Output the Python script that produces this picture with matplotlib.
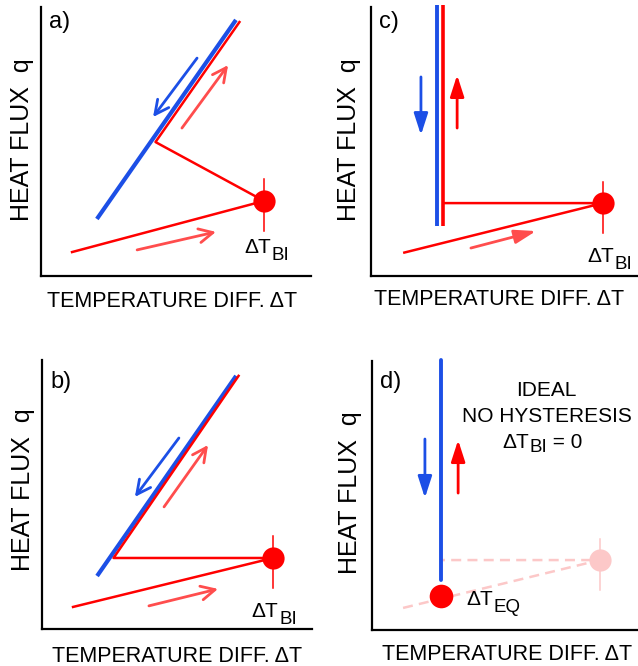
import matplotlib
matplotlib.use("Agg")
import matplotlib.pyplot as plt

plt.rcParams['font.family'] = ['Liberation Sans', 'DejaVu Sans']

BLUE = '#1c4fe6'
RED = '#ff0000'
LIGHT_RED = '#ff4d4d'
PALE = '#fcc8c8'

# schematic curves, arbitrary units 0..10 on both axes
# a) linear boiling curve, jump back to the upper branch
a_blue_x = [2.07, 7.22]
a_blue_y = [2.12, 9.52]
a_red_x = [1.15, 8.26, 4.24, 7.35]
a_red_y = [0.89, 2.79, 4.98, 9.44]
a_dot = (8.26, 2.79)

# b) same, but flat drop from the incipience point
b_blue_x = [2.04, 7.19]
b_blue_y = [1.97, 9.41]
b_red_x = [1.15, 8.56, 2.65, 7.28]
b_red_y = [0.82, 2.64, 2.64, 9.41]
b_dot = (8.56, 2.64)

# c) vertical boiling curve
c_blue_x = [2.44, 2.44]
c_blue_y = [1.86, 10.07]
c_red_x = [1.19, 8.59, 2.67]
c_red_y = [0.86, 2.71, 2.71]
c_redv_x = [2.67, 2.67]
c_redv_y = [1.86, 10.07]
c_dot = (8.59, 2.71)

# d) ideal, no hysteresis
d_blue_x = [2.56, 2.56]
d_blue_y = [1.86, 10.04]
d_pale_x = [1.15, 8.44, 2.56]
d_pale_y = [0.82, 2.60, 2.60]
d_dot = (2.56, 1.26)
d_pale_dot = (8.44, 2.60)

# direction arrows: (start, end, colour key)
a_arrows = [((5.78, 8.10), (4.15, 5.91), 'b'),
            ((5.22, 5.50), (6.93, 7.84), 'l'),
            ((3.56, 0.97), (6.48, 1.64), 'l')]
b_arrows = [((5.07, 7.10), (3.44, 4.91), 'b'),
            ((4.52, 4.54), (6.15, 6.84), 'l'),
            ((3.96, 0.86), (6.52, 1.49), 'l')]
c_arrows = [((1.85, 7.40), (1.85, 5.24), 'b'),
            ((3.19, 5.50), (3.19, 7.47), 'r'),
            ((3.70, 1.04), (6.11, 1.67), 'l')]
d_arrows = [((1.96, 7.10), (1.96, 4.91), 'b'),
            ((3.19, 5.09), (3.19, 7.06), 'r')]
arrow_col = {'b': BLUE, 'r': RED, 'l': LIGHT_RED}

XLABEL = 'TEMPERATURE DIFF. ΔT'
YLABEL = 'HEAT FLUX  q'

W, H = 638, 666
fig = plt.figure(figsize=(W / 100, H / 100), dpi=100)


def make_ax(left, bottom):
    ax = fig.add_axes([left / W, 1 - bottom / H, 270 / W, 269 / H])
    ax.set_xlim(0, 10)
    ax.set_ylim(0, 10)
    for s in ['top', 'right']:
        ax.spines[s].set_visible(False)
    for s in ['left', 'bottom']:
        ax.spines[s].set_linewidth(1.6)
    ax.set_xticks([])
    ax.set_yticks([])
    ax.patch.set_alpha(0)
    return ax


def arrows(ax, lst, style):
    for start, end, k in lst:
        ax.annotate('', xy=end, xytext=start,
                    arrowprops=dict(arrowstyle=style, color=arrow_col[k], lw=2,
                                    shrinkA=0, shrinkB=0))


def dot(ax, p, color):
    ax.plot([p[0], p[0]], [p[1] - 1.1, p[1] + 0.8], color=color, lw=1.1, clip_on=False)
    ax.plot(p[0], p[1], 'o', color=color, ms=16, mew=0, clip_on=False)


def dT(ax, x, y, sub, drop=5, ha='left', tail=''):
    # ΔT with a large, low subscript, pieces chained one after another
    t = ax.text(x, y, 'ΔT', fontsize=15, ha=ha, va='bottom')
    s = ax.annotate(sub, xy=(1, 0), xycoords=t, xytext=(0.5, -drop),
                    textcoords='offset points', fontsize=13.5, va='bottom')
    if tail:
        ax.annotate(tail, xy=(1, 0), xycoords=s, xytext=(0, drop),
                    textcoords='offset points', fontsize=15, va='bottom')


def labels(ax, xl, yl, ylab_y, panel, py):
    ax.text(xl[0], xl[1], XLABEL, transform=ax.transAxes, ha='center', va='baseline',
            fontsize=15.5, clip_on=False)
    ax.text(yl, ylab_y, YLABEL, transform=ax.transAxes, rotation=90, ha='center',
            va='center', fontsize=18, clip_on=False)
    ax.text(0.30, py, panel, ha='left', va='baseline', fontsize=17)


head_open = '->,head_length=1.0,head_width=0.5'
head_fill = '-|>,head_length=1.3,head_width=0.42'

# a)
ax = make_ax(41, 276)
ax.plot(a_blue_x, a_blue_y, color=BLUE, lw=3, solid_capstyle='butt', clip_on=False)
ax.plot(a_red_x, a_red_y, color=RED, lw=1.8, clip_on=False)
dot(ax, a_dot, RED)
arrows(ax, a_arrows, head_open)
dT(ax, 7.52, 0.70, 'BI')
labels(ax, (0.485, -0.115), -0.072, 0.506, 'a)', 9.22)

# c)
ax = make_ax(371, 276)
ax.plot(c_blue_x, c_blue_y, color=BLUE, lw=2.8, solid_capstyle='butt', clip_on=False)
ax.plot(c_redv_x, c_redv_y, color=RED, lw=2.6, solid_capstyle='butt', clip_on=False)
ax.plot(c_red_x, c_red_y, color=RED, lw=1.8, solid_capstyle='butt', clip_on=False)
dot(ax, c_dot, RED)
arrows(ax, c_arrows, head_fill)
dT(ax, 8.00, 0.36, 'BI')
labels(ax, (0.476, -0.108), -0.081, 0.506, 'c)', 9.22)

# b)
ax = make_ax(42, 629)
ax.plot(b_blue_x, b_blue_y, color=BLUE, lw=3, solid_capstyle='butt', clip_on=False)
ax.plot(b_red_x, b_red_y, color=RED, lw=1.8, clip_on=False)
dot(ax, b_dot, RED)
arrows(ax, b_arrows, head_open)
dT(ax, 7.77, 0.29, 'BI')
labels(ax, (0.50, -0.122), -0.072, 0.517, 'b)', 8.96)

# d)
ax = make_ax(372, 630)
ax.plot(d_pale_x, d_pale_y, color=PALE, lw=1.8, ls=(0, (4, 2.5)), clip_on=False)
dot(ax, d_pale_dot, PALE)
ax.plot(d_blue_x, d_blue_y, color=BLUE, lw=2.8, solid_capstyle='round', clip_on=False)
ax.plot(d_dot[0], d_dot[1], 'o', color=RED, ms=17, mew=0, clip_on=False)
arrows(ax, d_arrows, head_fill)
dT(ax, 3.50, 0.77, 'EQ')
ax.text(6.44, 8.70, 'IDEAL', fontsize=15, ha='center', va='baseline')
ax.text(6.48, 7.73, 'NO HYSTERESIS', fontsize=15, ha='center', va='baseline')
dT(ax, 5.81, 6.61, 'BI', drop=3, ha='right', tail=' = 0')
labels(ax, (0.50, -0.112), -0.081, 0.51, 'd)', 9.00)

fig.savefig('out.png', dpi=100)
